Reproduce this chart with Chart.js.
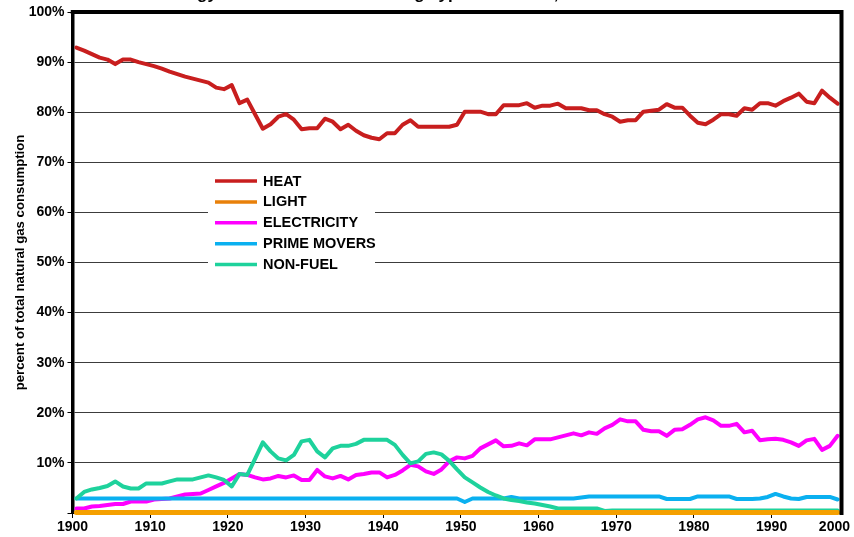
<!DOCTYPE html>
<html>
<head>
<meta charset="utf-8">
<title>Natural gas consumption by type of energy service</title>
<script src="https://cdn.jsdelivr.net/npm/chart.js@4.4.1/dist/chart.umd.min.js"></script>
<style>
  html, body { margin: 0; padding: 0; background: #fff; }
  #contenedor { width: 854px; height: 537px; }
</style>
</head>
<body>
<div id="contenedor"><canvas id="graficoGas" width="854" height="537"></canvas></div>
<script>
// Años de la serie (una categoría por año)
const anioInicio = 1900;
const anioFin    = 1998;
const anios = [];
for (let a = anioInicio; a <= anioFin; a++) anios.push(a);

// Etiquetas del eje X (cada 10 años)
const etiquetasX = [1900, 1910, 1920, 1930, 1940, 1950, 1960, 1970, 1980, 1990, 2000];

// Porcentaje del consumo total de gas natural, por tipo de servicio
const heat = [
    92.9, 92.3, 91.6, 90.9, 90.5, 89.6, 90.5, 90.5, 90.0, 89.6,
    89.2, 88.7, 88.1, 87.6, 87.1, 86.7, 86.3, 85.9, 84.9, 84.6,
    85.4, 81.8, 82.5, 79.6, 76.7, 77.6, 79.1, 79.6, 78.5, 76.6,
    76.8, 76.8, 78.7, 78.1, 76.6, 77.5, 76.3, 75.4, 74.9, 74.6,
    75.8, 75.8, 77.5, 78.4, 77.1, 77.1, 77.1, 77.1, 77.1, 77.5,
    80.1, 80.1, 80.1, 79.6, 79.6, 81.4, 81.4, 81.4, 81.8, 80.9,
    81.3, 81.3, 81.7, 80.8, 80.8, 80.8, 80.4, 80.4, 79.6, 79.1,
    78.1, 78.4, 78.4, 80.1, 80.3, 80.5, 81.6, 80.9, 80.9, 79.3,
    77.9, 77.6, 78.5, 79.6, 79.6, 79.3, 80.8, 80.5, 81.8, 81.8,
    81.3, 82.2, 82.9, 83.7, 82.1, 81.8, 84.3, 82.9, 81.7
];

const light = [
    0.1, 0.1, 0.1, 0.1, 0.1, 0.1, 0.1, 0.1, 0.1, 0.1,
    0.1, 0.1, 0.1, 0.1, 0.1, 0.1, 0.1, 0.1, 0.1, 0.1,
    0.1, 0.1, 0.1, 0.1, 0.1, 0.1, 0.1, 0.1, 0.1, 0.1,
    0.1, 0.1, 0.1, 0.1, 0.1, 0.1, 0.1, 0.1, 0.1, 0.1,
    0.1, 0.1, 0.1, 0.1, 0.1, 0.1, 0.1, 0.1, 0.1, 0.1,
    0.1, 0.1, 0.1, 0.1, 0.1, 0.1, 0.1, 0.1, 0.1, 0.1,
    0.1, 0.1, 0.1, 0.1, 0.1, 0.1, 0.1, 0.1, 0.1, 0.1,
    0.1, 0.1, 0.1, 0.1, 0.1, 0.1, 0.1, 0.1, 0.1, 0.1,
    0.1, 0.1, 0.1, 0.1, 0.1, 0.1, 0.1, 0.1, 0.1, 0.1,
    0.1, 0.1, 0.1, 0.1, 0.1, 0.1, 0.1, 0.1, 0.1
];

const electricity = [
    0.9, 0.9, 1.3, 1.4, 1.6, 1.8, 1.8, 2.3, 2.3, 2.3,
    2.7, 2.8, 2.9, 3.3, 3.7, 3.8, 3.9, 4.6, 5.3, 6.0,
    6.9, 7.8, 7.6, 7.1, 6.7, 6.9, 7.4, 7.1, 7.5, 6.6,
    6.6, 8.6, 7.3, 6.9, 7.4, 6.7, 7.6, 7.8, 8.1, 8.1,
    7.1, 7.6, 8.5, 9.6, 9.3, 8.3, 7.8, 8.7, 10.3, 11.1,
    10.9, 11.4, 12.9, 13.7, 14.5, 13.3, 13.4, 13.9, 13.5, 14.7,
    14.7, 14.7, 15.1, 15.5, 15.9, 15.5, 16.1, 15.8, 16.9, 17.6,
    18.7, 18.3, 18.3, 16.6, 16.3, 16.3, 15.4, 16.6, 16.7, 17.6,
    18.7, 19.1, 18.5, 17.4, 17.4, 17.8, 16.1, 16.4, 14.5, 14.7,
    14.8, 14.6, 14.1, 13.4, 14.5, 14.8, 12.6, 13.4, 15.4
];

const primeMovers = [
    2.9, 2.9, 2.9, 2.9, 2.9, 2.9, 2.9, 2.9, 2.9, 2.9,
    2.9, 2.9, 2.9, 2.9, 2.9, 2.9, 2.9, 2.9, 2.9, 2.9,
    2.9, 2.9, 2.9, 2.9, 2.9, 2.9, 2.9, 2.9, 2.9, 2.9,
    2.9, 2.9, 2.9, 2.9, 2.9, 2.9, 2.9, 2.9, 2.9, 2.9,
    2.9, 2.9, 2.9, 2.9, 2.9, 2.9, 2.9, 2.9, 2.9, 2.9,
    2.2, 2.9, 2.9, 2.9, 2.9, 2.9, 3.2, 2.9, 2.9, 2.9,
    2.9, 2.9, 2.9, 2.9, 2.9, 3.1, 3.3, 3.3, 3.3, 3.3,
    3.3, 3.3, 3.3, 3.3, 3.3, 3.3, 2.8, 2.8, 2.8, 2.8,
    3.3, 3.3, 3.3, 3.3, 3.3, 2.8, 2.8, 2.8, 2.9, 3.2,
    3.8, 3.3, 2.9, 2.8, 3.2, 3.2, 3.2, 3.2, 2.7
];

const nonFuel = [
    2.9, 4.2, 4.7, 5.0, 5.4, 6.3, 5.3, 4.9, 4.9, 5.9,
    5.9, 5.9, 6.3, 6.7, 6.7, 6.7, 7.1, 7.5, 7.1, 6.6,
    5.3, 7.8, 7.6, 10.8, 14.1, 12.3, 10.9, 10.5, 11.6, 14.3,
    14.6, 12.3, 11.1, 12.9, 13.4, 13.4, 13.8, 14.6, 14.6, 14.6,
    14.6, 13.6, 11.6, 9.9, 10.3, 11.8, 12.1, 11.7, 10.4, 8.7,
    7.1, 6.1, 5.1, 4.2, 3.5, 2.9, 2.6, 2.4, 2.1, 1.9,
    1.6, 1.3, 0.9, 0.9, 0.9, 0.9, 0.9, 0.9, 0.4, 0.5,
    0.5, 0.5, 0.5, 0.5, 0.5, 0.5, 0.5, 0.5, 0.5, 0.5,
    0.5, 0.5, 0.5, 0.5, 0.5, 0.5, 0.5, 0.5, 0.5, 0.5,
    0.5, 0.5, 0.5, 0.5, 0.5, 0.5, 0.5, 0.5, 0.5
];

const fuente = '"Liberation Sans", Arial, sans-serif';
const textoTitulo = 'Energy Services Delivered Using Type of Service, 1900-2000';

// Leyenda dentro del área del gráfico (caja blanca sobre la rejilla)
const pluginLeyenda = {
    id: 'leyenda',
    beforeDatasetsDraw(chart) {
        const ctx = chart.ctx;
        ctx.save();
        ctx.fillStyle = '#fff';
        ctx.fillRect(208, 166, 167, 112);
        ctx.font = 'bold 14.5px ' + fuente;
        ctx.textBaseline = 'middle';
        ctx.textAlign = 'left';
        chart.data.datasets.forEach((ds, i) => {
            const y = 181 + i * 20.9;
            ctx.strokeStyle = ds.legendColor || ds.borderColor;
            ctx.lineWidth = 3.5;
            ctx.beginPath();
            ctx.moveTo(215, y);
            ctx.lineTo(257, y);
            ctx.stroke();
            ctx.fillStyle = '#000';
            ctx.fillText(ds.label, 263, y + 0.5);
        });
        ctx.restore();
    }
};

// Bordes gruesos arriba y a la derecha del área de trazado
const pluginBordes = {
    id: 'bordes',
    afterDatasetsDraw(chart) {
        const {left, right, top, bottom} = chart.chartArea;
        const ctx = chart.ctx;
        ctx.save();
        ctx.strokeStyle = '#000';
        ctx.lineWidth = 4;
        ctx.beginPath();
        ctx.moveTo(left - 1.75, top);
        ctx.lineTo(right + 2, top);
        ctx.moveTo(right, top);
        ctx.lineTo(right, bottom + 2);
        ctx.stroke();
        ctx.restore();
    }
};

// Etiquetas del eje X en los límites de década y título recortado arriba
const pluginTextos = {
    id: 'textos',
    afterDraw(chart) {
        const ctx = chart.ctx;
        const xs = chart.scales.x;
        const anchoCat = xs.width / anios.length;
        ctx.save();
        ctx.fillStyle = '#000';
        ctx.font = 'bold 14px ' + fuente;
        ctx.textAlign = 'center';
        ctx.textBaseline = 'middle';
        etiquetasX.forEach(a => {
            const txt = String(a);
            const w = ctx.measureText(txt).width;
            let px = xs.left + (a - anioInicio) * anchoCat;
            px = Math.min(px, chart.width - 4 - w / 2);
            ctx.fillText(txt, px, xs.top + 14);
        });

        ctx.font = 'bold 17px ' + fuente;
        ctx.textAlign = 'left';
        ctx.textBaseline = 'alphabetic';
        const inicio = 197 - ctx.measureText('Ener').width;
        ctx.fillText(textoTitulo, inicio, -1);
        ctx.restore();
    }
};

const serie = (label, data, color, ancho, orden, colorLeyenda) => ({
    label: label,
    data: data,
    borderColor: color,
    backgroundColor: color,
    legendColor: colorLeyenda,
    borderWidth: ancho,
    pointRadius: 0,
    tension: 0,
    borderJoinStyle: 'round',
    borderCapStyle: 'round',
    fill: false,
    order: orden,
    clip: 6
});

new Chart(document.getElementById('graficoGas'), {
    type: 'line',
    data: {
        labels: anios,
        datasets: [
            serie('HEAT',         heat,        '#c81e1e', 4, 4),
            serie('LIGHT',        light,       '#f5a000', 5, 0, '#e8800a'),
            serie('ELECTRICITY',  electricity, '#ff00ff', 4, 3),
            serie('PRIME MOVERS', primeMovers, '#0ab0f0', 4, 2),
            serie('NON-FUEL',     nonFuel,     '#1ed29c', 4, 1)
        ]
    },
    options: {
        responsive: false,
        animation: false,
        devicePixelRatio: 1,
        events: [],
        layout: { padding: { top: 12, right: 12.5, left: 0, bottom: 0 } },
        plugins: {
            legend:  { display: false },
            tooltip: { enabled: false }
        },
        scales: {
            x: {
                type: 'category',
                offset: true,
                afterFit: s => { s.height = 24; },
                ticks: { display: false },
                grid: {
                    offset: true,
                    drawOnChartArea: false,
                    tickLength: 5,
                    tickColor: c => ((anioInicio + c.index) % 10 === 0) ? '#000' : 'rgba(0,0,0,0)'
                },
                border: { color: '#000', width: 2 }
            },
            y: {
                min: 0,
                max: 100,
                afterFit: s => { s.width = 72.5; },
                ticks: {
                    stepSize: 10,
                    color: '#000',
                    padding: 3,
                    font: { family: fuente, size: 14, weight: 'bold' },
                    callback: v => v === 0 ? '' : v + '%'
                },
                grid: {
                    color: '#3c3c3c',
                    lineWidth: 1,
                    tickColor: '#000',
                    tickLength: 5
                },
                border: { color: '#000', width: 3.5 },
                title: {
                    display: true,
                    text: 'percent of total natural gas consumption',
                    color: '#000',
                    font: { family: fuente, size: 13.2, weight: 'bold' },
                    padding: { top: 12, bottom: 0 }
                }
            }
        }
    },
    plugins: [pluginLeyenda, pluginBordes, pluginTextos]
});
</script>
</body>
</html>
